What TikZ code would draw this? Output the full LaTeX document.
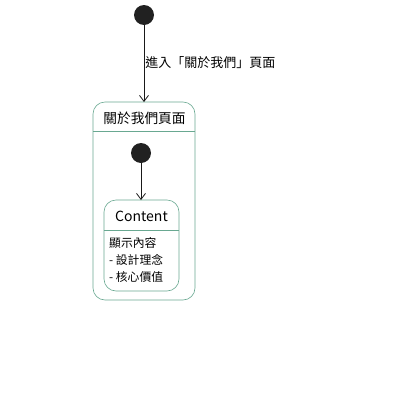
\documentclass[tikz,border=0pt]{standalone}
\usepackage{fontspec}
\newfontfamily\cjk{Noto Sans CJK TC}
\usepackage{xcolor}
\usetikzlibrary{arrows.meta, positioning}
\definecolor{statebord}{RGB}{105,168,145}

\begin{document}
\begin{tikzpicture}[x=1pt, y=-1pt,
		font=\cjk\fontsize{13}{15}\selectfont,
		startdot/.style = {circle, fill = black!87, inner sep = 0pt, minimum size = 20pt},
		trans/.style = {draw = black!90, line width = 0.8pt, -{Straight Barb[length=6pt, width=9pt]}},
		statebox/.style = {draw = statebord, line width = 0.6pt, rounded corners = 12pt}]
		\useasboundingbox (0,0) rectangle (415,402);
		\def\outerstate{(93,102) rectangle (195,300)};
		\def\innerstate{(104,200) rectangle (179,291)};
		
		\begin{scope}
			\node [startdot] (start) at (144,15) {};
			\node [startdot] (innerstart) at (141,153) {};
		\end{scope}
		
		\begin{scope}
			\draw [statebox] \outerstate;
			\draw [statebord, line width = 0.6pt] (93,131) -- (195,131);
			\draw [statebox] \innerstate;
			\draw [statebord, line width = 0.6pt] (104,230) -- (179,230);
		\end{scope}
		
		\begin{scope}
			\coordinate (outertop) at (144,102);
			\coordinate (innertop) at (141,200);
			\node [font = \cjk\fontsize{13.7}{15}\selectfont] (about) at (144.5,118) {關於我們頁面};
			\node [font = \cjk\fontsize{14}{16}\selectfont] (content) at (141.5,216) {Content};
			\node [anchor = west, align = left, inner sep = 0pt,
				font = \cjk\fontsize{11.8}{17}\selectfont] (body) at (109,260)
				{顯示內容\\- 設計理念\\- 核心價值};
		\end{scope}
		
		\begin{scope}
			\draw [trans] (start) -- node [right, inner sep = 1pt, yshift = 1pt] (enter) {進入「關於我們」頁面} (outertop);
			\draw [trans] (innerstart) -- (innertop);
		\end{scope}
	\end{tikzpicture}
\end{document}
